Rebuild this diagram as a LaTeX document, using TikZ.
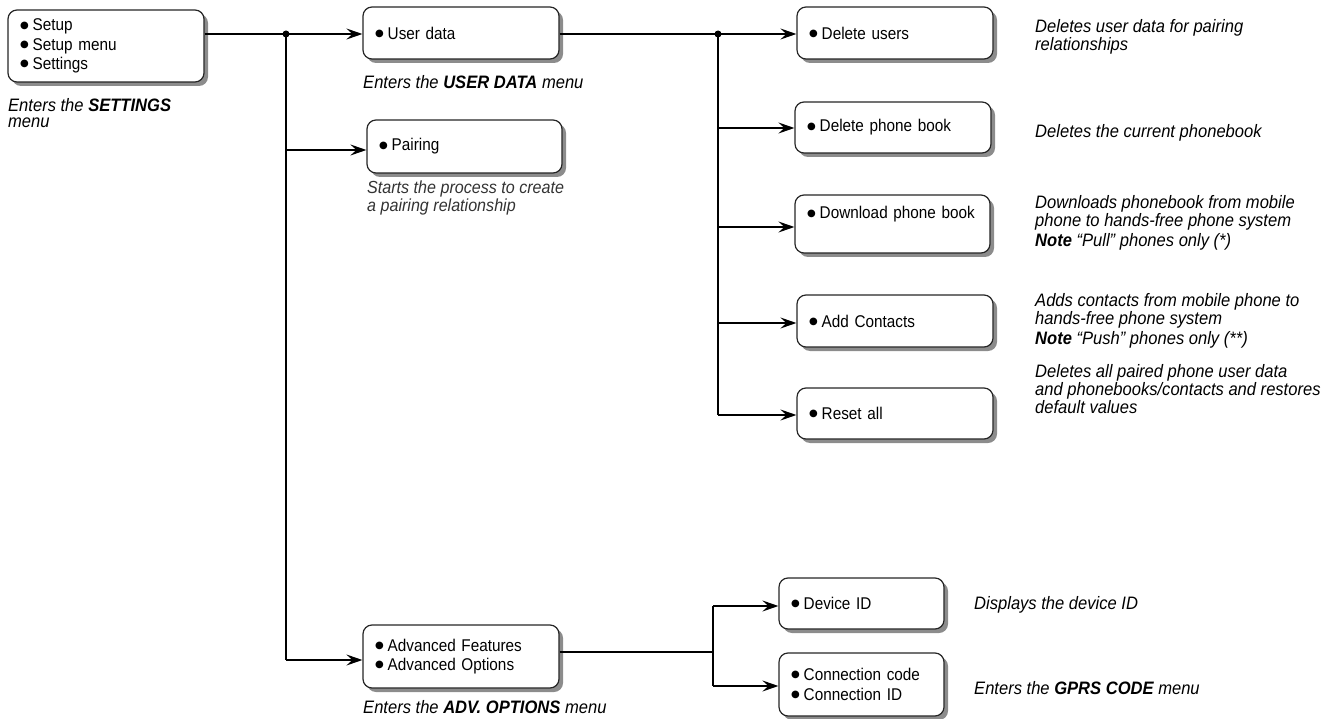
\documentclass[tikz,border=0pt]{standalone}
\usepackage{fontspec}
\setmainfont{Liberation Sans}[FakeStretch=0.9]
\newfontfamily\descfont{Liberation Sans}[FakeStretch=0.92]
\newfontfamily\symfont{DejaVu Sans}
\usetikzlibrary{arrows.meta,shadows}
\newcommand{\bul}{\raisebox{2.6pt}{\symfont\fontsize{10}{10}\selectfont ●}\hspace{4pt}}
\begin{document}
\begin{tikzpicture}[x=1pt,y=-1pt,
  menubox/.style={draw=black!85, line width=1.2pt, rounded corners=9pt, fill=white,
    drop shadow={shadow xshift=4pt,shadow yshift=-4pt,fill=black!45,opacity=1},
    align=left, font=\fontsize{17}{19.2}\selectfont, inner xsep=12pt, inner ysep=0pt, anchor=center},
  desc/.style={anchor=west, align=left, font=\descfont\fontsize{18}{16}\selectfont\itshape, inner sep=0pt},
  lightdesc/.style={desc, text=black!80},
  conn/.style={line width=1.2pt},
  arr/.style={conn, -{Stealth[length=16pt,width=11pt,inset=6pt]}},
  jdot/.style={circle, fill=black, inner sep=0pt, minimum size=7pt}
]
\useasboundingbox (0,0) rectangle (1322,719);

% boxes
\node[menubox, text width=172pt, minimum height=72pt] (settings) at (106,46)
  {\bul Setup\\\bul Setup menu\\\bul Settings};
\node[menubox, text width=172pt, minimum height=52pt] (userdata) at (461,33) {\bul User data};
\node[menubox, text width=171pt, minimum height=53pt] (pairing) at (464.5,146.5) {\bul Pairing};
\node[menubox, text width=172pt, minimum height=63pt] (adv) at (461,656.5)
  {\bul Advanced Features\\\bul Advanced Options};

\node[menubox, text width=172pt, minimum height=52pt] (deluser) at (895,33) {\bul Delete users};
\node[menubox, text width=172pt, minimum height=51pt] (delpb) at (893,127.5) {\bul Delete phone book};
\node[menubox, text width=171pt, minimum height=58pt] (download) at (892.5,224)
  {\bul Download phone book\\[-2pt]\strut};
\node[menubox, text width=172pt, minimum height=52pt] (addc) at (895,321) {\bul Add Contacts};
\node[menubox, text width=172pt, minimum height=51pt] (reset) at (895,413.5) {\bul Reset all};

\node[menubox, text width=141pt, minimum height=51pt] (devid) at (861.5,603.5) {\bul Device ID};
\node[menubox, text width=141pt, minimum height=63pt, font=\fontsize{17}{20}\selectfont] (connid) at (861.5,684.5)
  {\bul Connection code\\\bul Connection ID};

% junctions
\coordinate (j1) at (286,34);
\coordinate (j2) at (718,34);
\coordinate (j3) at (713,652);

\draw[conn] (settings.east |- j1) -- (j1);
\draw[arr] (j1) -- (userdata.west |- j1);
\draw[conn] (j1) -- (j1 |- 0,660);
\draw[arr] (j1 |- 0,150) -- (pairing.west |- 0,150);
\draw[arr] (j1 |- 0,660) -- (adv.west |- 0,660);
\node[jdot] (d1) at (j1) {};

\draw[conn] (userdata.east |- j2) -- (j2);
\draw[arr] (j2) -- (deluser.west |- j2);
\draw[conn] (j2) -- (j2 |- 0,415);
\draw[arr] (j2 |- 0,128) -- (delpb.west |- 0,128);
\draw[arr] (j2 |- 0,227) -- (download.west |- 0,227);
\draw[arr] (j2 |- 0,323) -- (addc.west |- 0,323);
\draw[arr] (j2 |- 0,415) -- (reset.west |- 0,415);
\node[jdot] (d2) at (j2) {};

\draw[conn] (adv.east |- j3) -- (j3);
\draw[conn] (j3 |- 0,606) -- (j3 |- 0,686);
\draw[arr] (j3 |- 0,606) -- (devid.west |- 0,606);
\draw[arr] (j3 |- 0,686) -- (connid.west |- 0,686);

% labels
\node[desc] (lset) at (8,113.5) {Enters the \textbf{SETTINGS}\\menu};
\node[desc] (luser) at (363,82) {Enters the \textbf{USER DATA} menu};
\node[lightdesc, font=\descfont\fontsize{17.5}{14.5}\selectfont\itshape] (lpair) at (367,198) {Starts the process to create\\a pairing relationship};
\node[desc] (ladv) at (363,707) {Enters the \textbf{ADV. OPTIONS} menu};

\node[desc] (ddeluser) at (1035,36.5) {Deletes user data for pairing\\relationships};
\node[desc] (ddelpb) at (1035,133) {Deletes the current phonebook};
\node[desc] (ddown) at (1035,223) {Downloads phonebook from mobile\\phone to hands-free phone system\\[2pt]\textbf{Note} “Pull” phones only (*)};
\node[desc] (daddc) at (1035,321) {Adds contacts from mobile phone to\\hands-free phone system\\[2pt]\textbf{Note} “Push” phones only (**)};
\node[desc] (dreset) at (1035,389) {Deletes all paired phone user data\\and phonebooks/contacts and restores\\default values};
\node[desc] (ddev) at (974,605) {Displays the device ID};
\node[desc] (dconn) at (974,688) {Enters the \textbf{GPRS CODE} menu};
\end{tikzpicture}
\end{document}
